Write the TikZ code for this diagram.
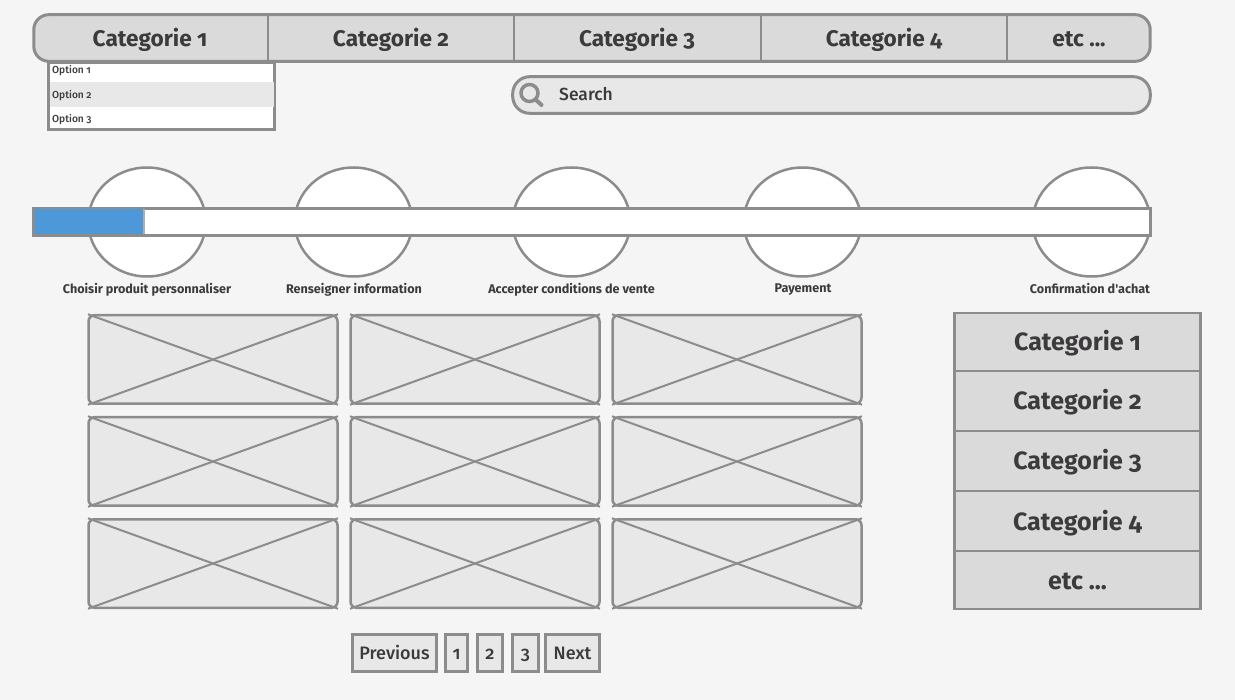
\documentclass[tikz,border=0pt]{standalone}
\usepackage{fontspec}
\setmainfont[Numbers=OldStyle]{Fira Sans}
\newfontfamily\plainfont[Numbers=OldStyle,RawFeature={-tlig}]{Fira Sans}
\newfontfamily\medfont[Numbers=OldStyle]{Fira Sans Medium}
\usetikzlibrary{shapes.geometric}
\definecolor{bgc}{HTML}{F5F5F5}
\definecolor{lnc}{HTML}{8C8C8C}
\definecolor{fillA}{HTML}{DADADA}
\definecolor{fillB}{HTML}{E8E8E8}
\definecolor{txt}{HTML}{3C3A3C}
\definecolor{blu}{HTML}{4C98D9}
\newcommand{\fs}[1]{\fontsize{#1}{#1}\selectfont}
\tikzset{
 x=1pt,y=-1pt,
 navtext/.style={text=txt,font=\fs{22.6}\bfseries,inner sep=0pt},
 optext/.style={text=txt,font=\medfont\fs{10.2},inner sep=0pt,anchor=west},
 steplabel/.style={text=txt,font=\fs{12.6}\bfseries,inner sep=0pt},
 disc/.style={ellipse,draw=lnc,fill=white,line width=2.5pt,inner sep=0pt,minimum width=117.5pt,minimum height=109pt},
 imgbox/.style={draw=lnc,fill=fillB,line width=2.5pt,rounded corners=6pt,inner sep=0pt,minimum width=249pt,minimum height=88.5pt},
 crossline/.style={draw=lnc,line width=2pt,shorten >=0.8pt,shorten <=0.8pt},
 sidebox/.style={draw=lnc,fill=fillA,line width=2.5pt,inner sep=0pt,minimum width=246pt,text height=18pt,text depth=0pt,text=txt,font=\fs{25}\bfseries},
 pagebox/.style={draw=lnc,fill=fillB,line width=3pt,inner sep=0pt,minimum height=37pt,text height=12.5pt,text depth=0pt,text=txt,font=\medfont\fs{18}},
}
\begin{document}
\begin{tikzpicture}
\useasboundingbox (0,0) rectangle (1235,700);
\fill[bgc] (0,0) rectangle (1235,700);
% dropdown
\node[draw=lnc,fill=white,line width=3pt,inner sep=0pt,minimum width=226pt,minimum height=67pt] (drop) at (161.5,96) {};
\fill[fillB] (49.5,82) rectangle (273.5,107);
\node[optext] (o1) at (52,71) {Option 1};
\node[optext] (o2) at (52,95.5) {Option 2};
\node[optext] (o3) at (52,119.5) {Option 3};
% nav
\draw[lnc,fill=fillA,line width=3pt,rounded corners=15pt] (33.8,14.7) rectangle (1150.2,61.3);
\foreach \x in {268,514,761,1007} \draw[lnc,line width=2.5pt] (\x,15) -- (\x,61);
\node[navtext] (n1) at (150,39.5) {Categorie 1};
\node[navtext] (n2) at (391,39.5) {Categorie 2};
\node[navtext] (n3) at (637,39.5) {Categorie 3};
\node[navtext] (n4) at (884,39.5) {Categorie 4};
\node[navtext] (n5) at (1079,39.5) {etc ...};
% search
\draw[lnc,fill=fillB,line width=3pt,rounded corners=17pt] (512.7,76.7) rectangle (1150.3,113.3);
\draw[lnc,line width=3.5pt] (529.5,93) circle (8.5);
\draw[lnc,line width=4pt,line cap=round] (536,100) -- (541.5,105);
\node[text=txt,font=\medfont\fs{17.5},inner sep=0pt,anchor=west] (search) at (559,94) {Search};
% steps
\node[disc] (c1) at (147,222) {};
\node[disc] (c2) at (353.5,222) {};
\node[disc] (c3) at (571.5,222) {};
\node[disc] (c4) at (802.5,222) {};
\node[disc] (c5) at (1091.5,222) {};
\node[draw=lnc,fill=white,line width=3pt,inner sep=0pt,minimum width=1117pt,minimum height=27pt] (bar) at (592,222) {};
\fill[blu] (34.5,209.5) rectangle (143,234.5);
\draw[lnc!70,line width=1.5pt] (144,209.5) -- (144,234.5);
\node[steplabel] (l1) at (147,289.5) {Choisir produit personnaliser};
\node[steplabel] (l2) at (354,289.5) {Renseigner information};
\node[steplabel] (l3) at (571.5,289.5) {Accepter conditions de vente};
\node[steplabel] (l4) at (803,290) {Payement};
\node[steplabel] (l5) at (1090,288.8) {{\plainfont\bfseries Confirmation d'achat}};
% image grid
\foreach \col/\cx in {1/213,2/475,3/737}
 \foreach \row/\cy in {1/359.5,2/461.5,3/563.5}{
  \node[imgbox] (img\col\row) at (\cx,\cy) {};
  \draw[crossline] (img\col\row.north west) -- (img\col\row.south east);
  \draw[crossline] (img\col\row.south west) -- (img\col\row.north east);
 }
% side menu
\node[sidebox,minimum height=58pt] (s1) at (1077.5,342) {Categorie 1};
\node[sidebox,minimum height=60pt] (s2) at (1077.5,401) {Categorie 2};
\node[sidebox,minimum height=60pt] (s3) at (1077.5,461) {Categorie 3};
\node[sidebox,minimum height=60pt] (s4) at (1077.5,521) {Categorie 4};
\node[sidebox,minimum height=58pt] (s5) at (1077.5,580) {etc ...};
% pagination
\node[pagebox,minimum width=84pt] (prev) at (394.5,653) {Previous};
\node[pagebox,minimum width=22pt] (p1) at (456.5,653) {1};
\node[pagebox,minimum width=25pt] (p2) at (490,653) {2};
\node[pagebox,minimum width=26pt] (p3) at (525.5,653) {3};
\node[pagebox,minimum width=54pt] (next) at (572.5,653) {Next};
\end{tikzpicture}
\end{document}
